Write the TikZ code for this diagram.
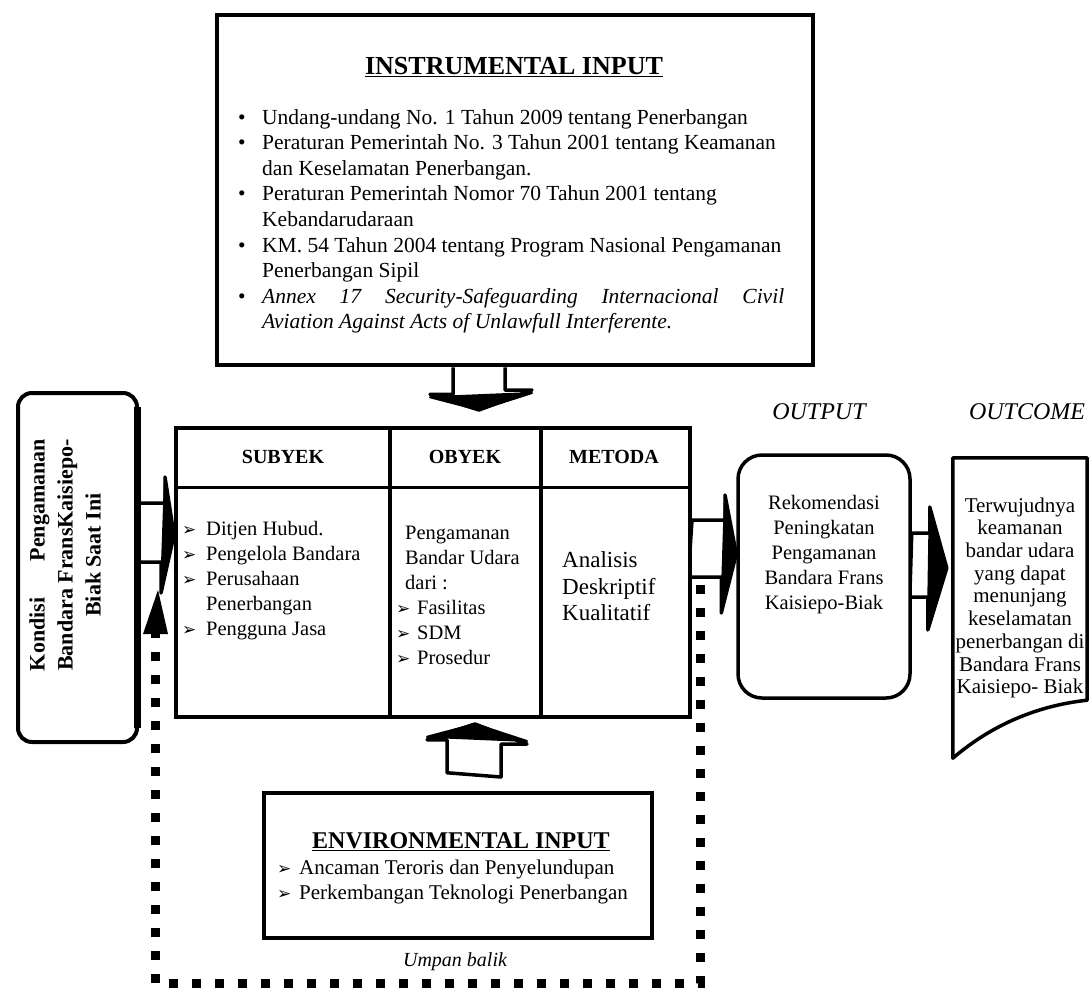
\documentclass[tikz,border=0pt]{standalone}
\usepackage{fontspec}
\setmainfont{Liberation Serif}
\newfontfamily\dejavu{DejaVu Sans}
\usetikzlibrary{calc}
\pgfdeclarelayer{back}
\pgfsetlayers{back,main}
\newcommand{\myarr}{{\dejavu\fontsize{17}{17}\selectfont ➢}}
\begin{document}
\begin{tikzpicture}[x=1pt,y=-1pt,
 box/.style={draw,line width=4pt,fill=white,inner sep=0pt},
 barrow/.style={draw,line width=3.5pt,fill=white,line join=round},
 bhead/.style={fill=black,draw=black,line width=2pt,line join=round},
 feedback/.style={line width=9pt,dash pattern=on 9pt off 14pt},
 body/.style={inner sep=0pt,anchor=north west,font=\fontsize{20.5}{25}\selectfont},
 hdr/.style={inner sep=0pt,font=\bfseries\fontsize{20}{20}\selectfont},
]
\useasboundingbox (0,0) rectangle (1089,991);

% boxes
\node[box,line width=4.5pt,minimum width=596pt,minimum height=350pt] (instr) at (515,190) {};
\node[box,minimum width=514pt,minimum height=289pt] (main) at (433,572.5) {};
\node[box,rounded corners=14pt,minimum width=119pt,minimum height=349pt] (kond) at (77.5,567.5) {};
\node[box,line width=3.5pt,rounded corners=24pt,minimum width=172pt,minimum height=243pt] (out) at (824,576.5) {};
\node[inner sep=0pt,minimum width=134pt,minimum height=300pt] (outc) at (1020,608) {};
\node[box,line width=4.5pt,minimum width=388pt,minimum height=145pt] (env) at (458,865.5) {};

\draw[line width=3.5pt,fill=white,line join=round] (outc.north west) -- (outc.north east) -- ($(outc.south east)+(0,-58)$)
  .. controls ($(outc.south east)+(-55,-52)$) and ($(outc.south west)+(35,-30)$) .. (outc.south west) -- cycle;
\draw[line width=7pt] ($(kond.north east)+(-1.5,16)$) -- ($(kond.south east)+(-1.5,-16)$);

% main table lines
\coordinate (hy) at (0,487);
\coordinate (d1) at (390,0);
\coordinate (d2) at (541,0);
\draw[line width=3pt] (main.west |- hy) -- (main.east |- hy);
\draw[line width=4pt] (main.north -| d1) -- (main.south -| d1);
\draw[line width=4pt] (main.north -| d2) -- (main.south -| d2);

\begin{pgfonlayer}{back}
\fill[white] (0,0) rectangle (1089,991);
% feedback loop
\coordinate (fbA) at (700,585);
\coordinate (fbB) at (700,983);
\coordinate (fbC) at (155,983);
\coordinate (fbD) at (155,634);
\coordinate (fbT) at (158,590);
\draw[feedback] (fbA) -- (fbB) -- (fbC) -- (fbD);
\fill ($(fbD)+(-12,0)$) -- (fbT) -- ($(fbD)+(13,0)$) -- cycle;
% block arrows
\draw[barrow] ($(instr.south)+(-62,0)$) -- ++(0,27) -- ++(-23,0) coordinate (a1l) -- ($(main.north)+(46,-16)$) coordinate (a1t) -- ++(53,-20) coordinate (a1r) -- ++(-27,0) -- ($(instr.south)+(-10,0)$);
\draw[bhead] ($(a1l)+(0,3)$) -- (a1t) -- ($(a1r)+(0,3)$) -- cycle;
\draw[barrow] ($(env.north)+(-11,-18)$) -- ++(0,-33) -- ++(-20,0) coordinate (a2l) -- ($(main.south)+(42,5)$) coordinate (a2t) -- ++(52,20) coordinate (a2r) -- ++(-26,0) -- ++(0,33) -- cycle;
\draw[bhead] ($(a2l)+(0,-3)$) -- (a2t) -- ($(a2r)+(0,-3)$) -- cycle;
\draw[barrow] ($(kond.east)+(0,-64.5)$) -- ++(26,0) -- ++(0,-26) coordinate (a3u) -- ($(main.west)+(0,-37.5)$) coordinate (a3t) -- ++(-13,58) coordinate (a3d) -- ++(0,-31) -- ++(-26,0) -- cycle;
\draw[bhead] (a3u) -- (a3t) -- (a3d) -- cycle;
\draw[barrow] ($(main.east)+(0,-52.5)$) -- ++(33,0) -- ++(0,-25) coordinate (a4u) -- ($(out.west)+(0,-22.5)$) coordinate (a4t) -- ++(-15,59) coordinate (a4d) -- ++(0,-36) -- ++(-33,0) -- cycle;
\draw[bhead] (a4u) -- (a4t) -- (a4d) -- cycle;
\draw[barrow] ($(out.east)+(0,-43.5)$) -- ++(18,0) -- ++(0,-26) coordinate (a5u) -- ($(outc.west)+(-6,-40)$) coordinate (a5t) -- ++(-19,62) coordinate (a5d) -- ++(0,-33) -- ++(-18,0) -- cycle;
\draw[bhead] (a5u) -- (a5t) -- (a5d) -- cycle;
\end{pgfonlayer}

% texts
\node[inner sep=0pt,font=\bfseries\fontsize{26}{26}\selectfont] (ititle) at (514,67) {\underline{INSTRUMENTAL INPUT}};
\node[inner sep=0pt,anchor=north west,font=\fontsize{21.5}{25.6}\selectfont] (ilist) at (238,106) {%
\begin{tabular}{@{}p{24pt}@{}p{522pt}@{}}
\textbullet & Undang-undang No. 1 Tahun 2009 tentang Penerbangan\\
\textbullet & Peraturan Pemerintah No. 3 Tahun 2001 tentang Keamanan\newline dan Keselamatan Penerbangan.\\
\textbullet & Peraturan Pemerintah Nomor 70 Tahun 2001 tentang\newline Kebandarudaraan\\
\textbullet & KM. 54 Tahun 2004 tentang Program Nasional Pengamanan\newline Penerbangan Sipil\\
\textbullet & \makebox[\linewidth][s]{\itshape Annex 17 Security-Safeguarding Internacional Civil}\newline {\itshape Aviation Against Acts of Unlawfull Interferente.}
\end{tabular}};

\node[hdr] (hsub) at (283,457) {SUBYEK};
\node[hdr] (hobj) at (465,457) {OBYEK};
\node[hdr] (hmet) at (614,457) {METODA};

\node[body] (subl) at (182,518) {\begin{tabular}{@{}p{24pt}@{}l@{}}
\myarr & Ditjen Hubud.\\
\myarr & Pengelola Bandara\\
\myarr & Perusahaan\\
 & Penerbangan\\
\myarr & Pengguna Jasa
\end{tabular}};
\node[body] (objl) at (396,522) {\begin{tabular}{@{}p{21pt}@{}l@{}}
\multicolumn{2}{@{\hspace{9pt}}l@{}}{Pengamanan}\\
\multicolumn{2}{@{\hspace{9pt}}l@{}}{Bandar Udara}\\
\multicolumn{2}{@{\hspace{9pt}}l@{}}{dari :}\\
\myarr & Fasilitas\\
\myarr & SDM\\
\myarr & Prosedur
\end{tabular}};
\node[inner sep=0pt,anchor=north west,font=\fontsize{23}{26.5}\selectfont] (metl) at (562,549) {\begin{tabular}{@{}l@{}}
Analisis\\ Deskriptif\\ Kualitatif
\end{tabular}};

\node[inner sep=0pt,rotate=90,font=\bfseries\fontsize{22}{28}\selectfont] (ktext) at (67,555) {\begin{tabular}{@{}c@{}}
\makebox[232pt][s]{Kondisi Pengamanan}\\ Bandara FransKaisiepo-\\ Biak Saat Ini
\end{tabular}};

\node[inner sep=0pt,font=\itshape\fontsize{24}{24}\selectfont] (lout) at (819,412) {OUTPUT};
\node[inner sep=0pt,font=\itshape\fontsize{24}{24}\selectfont] (loutc) at (1027,412) {OUTCOME};

\node[inner sep=0pt,anchor=north,font=\fontsize{20.5}{25}\selectfont] (outt) at (824,492) {\begin{tabular}{@{}c@{}}
Rekomendasi\\ Peningkatan\\ Pengamanan\\ Bandara Frans\\ Kaisiepo-Biak
\end{tabular}};
\node[inner sep=0pt,anchor=north,font=\fontsize{21}{22.7}\selectfont] (outct) at (1020,496) {\begin{tabular}{@{}c@{}}
Terwujudnya\\ keamanan\\ bandar udara\\ yang dapat\\ menunjang\\ keselamatan\\ penerbangan di\\ Bandara Frans\\ Kaisiepo- Biak
\end{tabular}};

\node[inner sep=0pt,font=\bfseries\fontsize{24}{24}\selectfont] (etitle) at (461,842) {\underline{ENVIRONMENTAL INPUT}};
\node[inner sep=0pt,anchor=north west,font=\fontsize{21}{25}\selectfont] (elist) at (277,857) {\begin{tabular}{@{}p{22pt}@{}l@{}}
\myarr & Ancaman Teroris dan Penyelundupan\\
\myarr & Perkembangan Teknologi Penerbangan
\end{tabular}};

\node[inner sep=0pt,font=\itshape\fontsize{20}{20}\selectfont] (umpan) at (455,962) {Umpan balik};
\end{tikzpicture}
\end{document}
